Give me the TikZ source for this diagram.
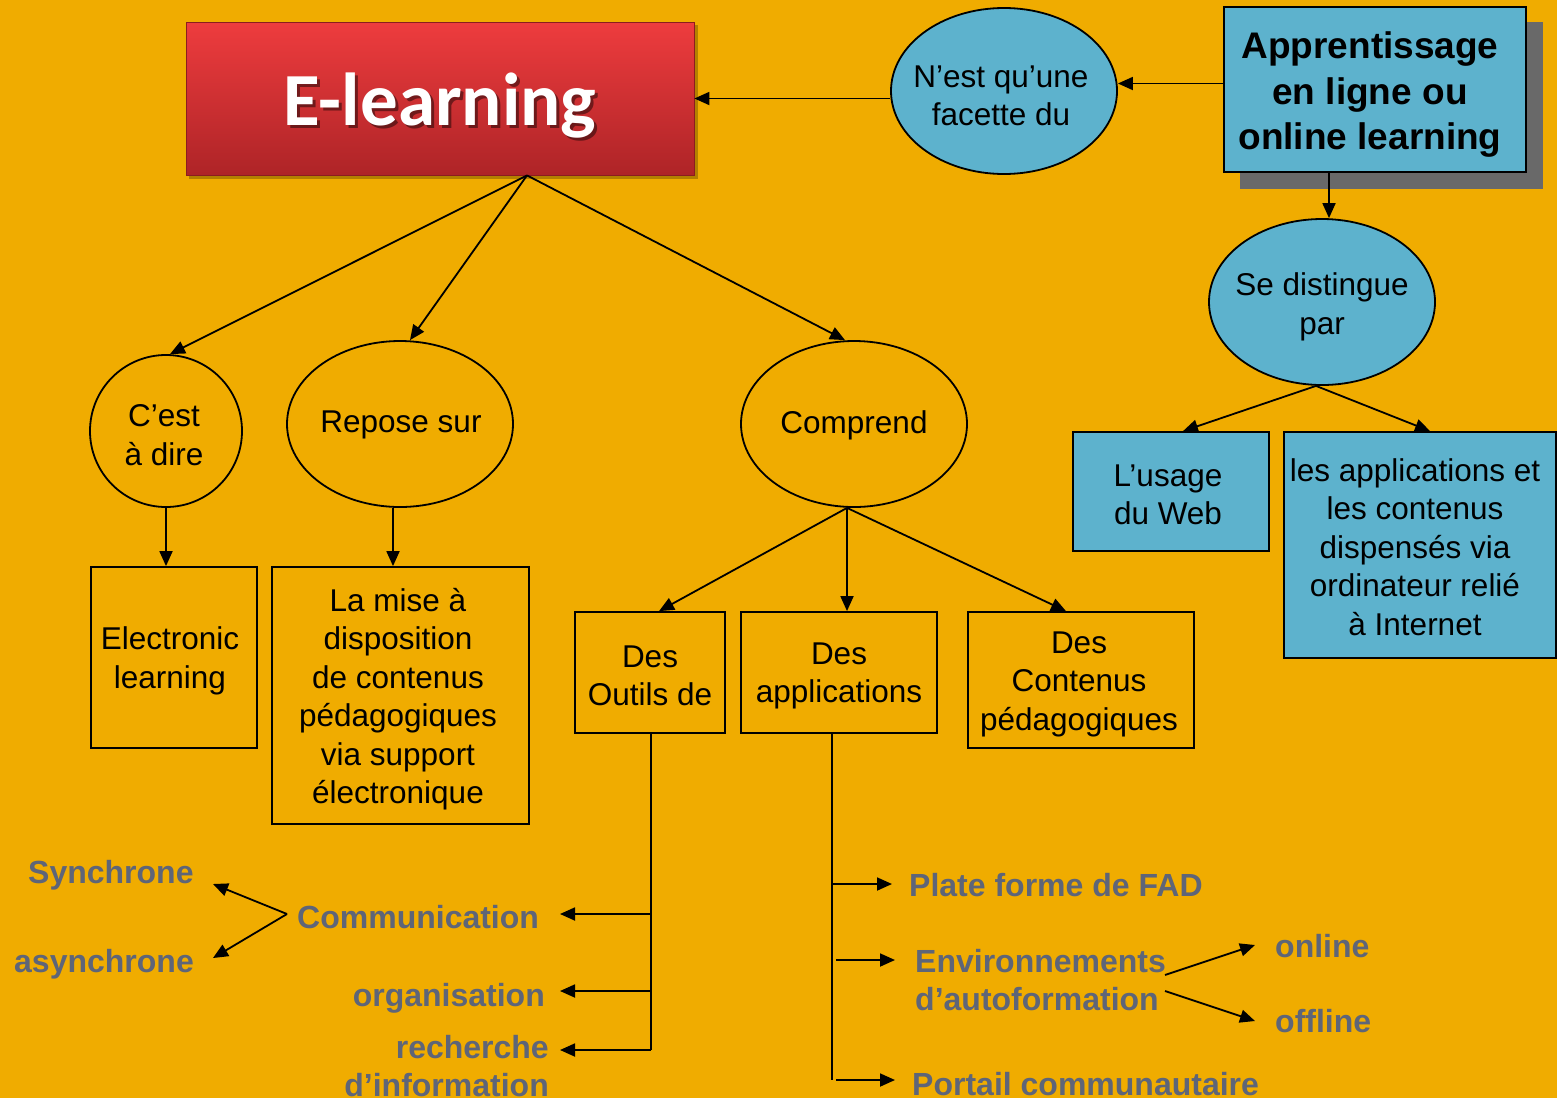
\documentclass[tikz,border=0pt]{standalone}
\usepackage{fontspec}
\setmainfont{Liberation Sans}
\newfontfamily\calibfont{Carlito}
\usetikzlibrary{shapes.geometric,arrows.meta,calc}
\definecolor{bg}{HTML}{F0AC00}
\definecolor{bluefill}{HTML}{5DB2CD}
\definecolor{graytext}{HTML}{5E6578}
\definecolor{redtop}{HTML}{EE3C3E}
\definecolor{redbot}{HTML}{AE2427}
\definecolor{shadowgray}{HTML}{696969}
\begin{document}
\begin{tikzpicture}[x=1pt,y=-1pt,
  txt/.style={font=\fontsize{31.5}{38.5}\selectfont, align=center, inner sep=0pt},
  box/.style={draw=black, line width=1.8pt, inner sep=0pt},
  ell/.style={ellipse, draw=black, line width=1.8pt, inner sep=0pt, minimum width=226pt, minimum height=166pt},
  arr/.style={line width=1.8pt, -{Triangle[length=15pt,width=13pt]}},
  ln/.style={line width=1.8pt},
  gtxt/.style={text=graytext, font=\fontsize{32}{38}\selectfont\bfseries, inner sep=0pt, align=left}
]
\fill[bg] (0,0) rectangle (1557,1098);
\useasboundingbox (0,0) rectangle (1557,1098);

% E-learning title
\fill[black, opacity=0.25] (189,25) rectangle (698,179);
\node[minimum width=508pt, minimum height=153pt, inner sep=0pt, top color=redtop, bottom color=redbot, draw=redbot!80!black, line width=0.8pt] (el) at (440,98.5) {};
\node[text=black, opacity=0.45, font=\calibfont\bfseries\fontsize{75}{80}\selectfont, inner sep=0pt] at (443,109) {E-learning};
\node[text=white, font=\calibfont\bfseries\fontsize{75}{80}\selectfont, inner sep=0pt] (eltext) at (440,106) {E-learning};

% Apprentissage box with shadow
\fill[shadowgray] (1240,22) rectangle (1543,189);
\node[box, fill=bluefill, minimum width=302pt, minimum height=165pt] (app) at (1375,89.5) {};
\node[txt, font=\fontsize{37}{45.5}\selectfont\bfseries] (apptext) at (1370,95) {Apprentissage\\en ligne ou\\online learning};

% Ellipses
\node[ell, fill=bluefill] (nest) at (1004,91) {};
\node[txt] (nesttext) at (1001,96) {N’est qu’une\\facette du};
\node[ell, fill=bluefill] (dist) at (1322,302) {};
\node[txt] (disttext) at (1322,307) {Se distingue\\par};
\node[circle, draw=black, line width=1.8pt, inner sep=0pt, minimum size=152pt] (cest) at (166,431) {};
\node[txt] (cesttext) at (164,435) {C’est\\à dire};
\node[ell] (rep) at (400,424) {};
\node[txt] (reptext) at (401,425) {Repose sur};
\node[ell] (comp) at (854,424) {};
\node[txt] (comptext) at (854,425) {Comprend};

% Boxes
\node[box, fill=bluefill, minimum width=196pt, minimum height=119pt] (usage) at (1171,491.5) {};
\node[txt] (usagetext) at (1168,495) {L’usage\\du Web};
\node[box, fill=bluefill, minimum width=272pt, minimum height=226pt] (apps) at (1420,545) {};
\node[txt] (appstext) at (1415,547) {les applications et\\les contenus\\dispensés via\\ordinateur relié\\à Internet};
\node[box, minimum width=166pt, minimum height=181pt] (elec) at (174,657.5) {};
\node[txt] (electext) at (170,661) {Electronic\\learning};
\node[box, minimum width=257pt, minimum height=257pt] (mise) at (400.5,695.5) {};
\node[txt] (misetext) at (398,699) {La mise à\\disposition\\de contenus\\pédagogiques\\via support\\électronique};
\node[box, minimum width=150pt, minimum height=121pt] (outils) at (650,672.5) {};
\node[txt] (outilstext) at (650,676) {Des\\Outils de};
\node[box, minimum width=196pt, minimum height=121pt] (dapp) at (839,672.5) {};
\node[txt] (dapptext) at (839,676) {Des\\applications};
\node[box, minimum width=226pt, minimum height=136pt] (cont) at (1081,680) {};
\node[txt] (conttext) at (1079,684) {Des\\Contenus\\pédagogiques};

% Gray texts
\node[gtxt, anchor=base west] (synch) at (28,883) {Synchrone};
\node[gtxt, anchor=base west] (async) at (14,972) {asynchrone};
\node[gtxt, anchor=base west] (comm) at (297,928) {Communication};
\node[gtxt, anchor=base east] (orga) at (545,1006) {organisation};
\node[gtxt, anchor=base east, align=right] (rech) at (549,1096) {recherche\\d’information};
\node[gtxt, anchor=base west] (plate) at (909,896) {Plate forme de FAD};
\node[gtxt, anchor=base west] (env) at (915,1010) {Environnements\\d’autoformation};
\node[gtxt, anchor=base west] (online) at (1275,957) {online};
\node[gtxt, anchor=base west] (offline) at (1275,1032) {offline};
\node[gtxt, anchor=base west] (port) at (912,1095) {Portail communautaire};

% Named coordinates for connector ends
\coordinate (elb) at ([xshift=87pt]el.south);
\coordinate (tcomm) at (560,914);
\coordinate (torga) at (560,991);
\coordinate (trech) at (560,1050);
\coordinate (cj) at (287,914);
\coordinate (tsyn) at (213,884);
\coordinate (tasy) at (213,958);
\coordinate (dv) at ([xshift=-7pt]dapp.south);
\coordinate (dvend) at (832,1080);
\coordinate (tplate) at (892,884);
\coordinate (tenv) at (895,960);
\coordinate (tport) at (895,1080);
\coordinate (eo) at (1165,975);
\coordinate (ef) at (1165,991);
\coordinate (ton) at (1255,945);
\coordinate (toff) at (1255,1021);

% Top connectors
\draw[arr] ([yshift=6pt]app.west) -- ([yshift=6pt]app.west -| nest.east);
\draw[arr] (nest.west |- el.east) -- (el.east);
\draw[arr] ([xshift=7pt]app.south -| dist.north) -- ([xshift=7pt]dist.north);
\draw[arr] ([xshift=-6pt]dist.south) -- ([xshift=12pt]usage.north);
\draw[arr] ([xshift=-6pt]dist.south) -- ([xshift=10pt]apps.north);

\draw[arr] (elb) -- ([xshift=4pt]cest.north);
\draw[arr] (elb) -- ([xshift=10pt]rep.north);
\draw[arr] (elb) -- ([xshift=-9pt]comp.north);
\draw[arr] (cest.south) -- (cest.south |- elec.north);
\draw[arr] ([xshift=-7pt]rep.south) -- ([xshift=-7pt]rep.south |- mise.north);

\draw[arr] ([xshift=-7pt]comp.south) -- ([xshift=9pt]outils.north);
\draw[arr] ([xshift=-7pt]comp.south) -- ([xshift=8pt]dapp.north);
\draw[arr] ([xshift=-7pt]comp.south) -- ([xshift=-15pt]cont.north);

% Outils branch
\draw[ln] ([xshift=1pt]outils.south) -- ([xshift=1pt]outils.south |- trech);
\draw[arr] ([xshift=1pt]outils.south |- tcomm) -- (tcomm);
\draw[arr] ([xshift=1pt]outils.south |- torga) -- (torga);
\draw[arr] ([xshift=1pt]outils.south |- trech) -- (trech);
\draw[arr] (cj) -- (tsyn);
\draw[arr] (cj) -- (tasy);

% Applications branch
\draw[ln] (dv) -- (dvend);
\draw[arr] (dv |- tplate) -- (tplate);
\draw[arr] ([xshift=4pt]dv |- tenv) -- (tenv);
\draw[arr] ([xshift=4pt]dvend) -- (tport);
\draw[arr] (eo) -- (ton);
\draw[arr] (ef) -- (toff);
\end{tikzpicture}
\end{document}
